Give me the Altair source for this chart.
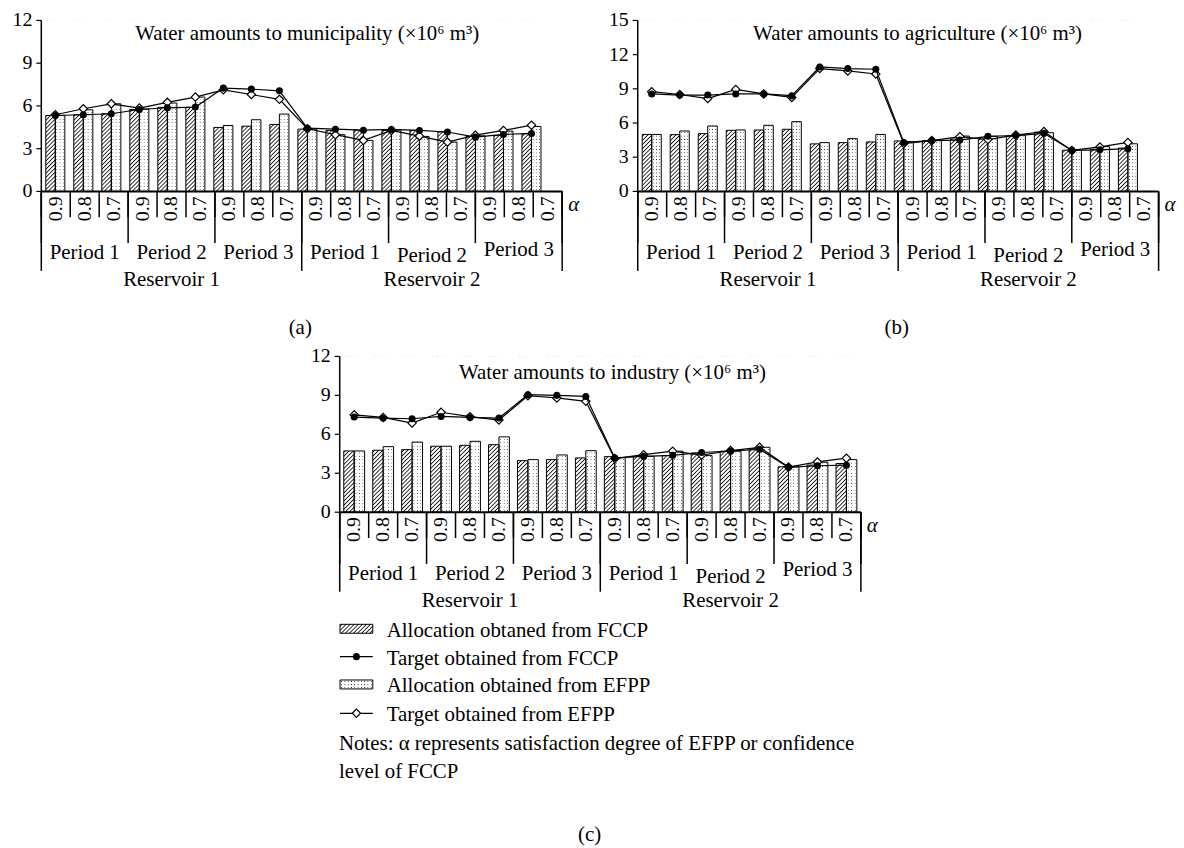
import math
import altair as alt
import pandas as pd

# ---------------- data ----------------
alpha_levels = ["0.9", "0.8", "0.7"]
period_names = ["Period 1", "Period 2", "Period 3"]
reservoir_names = ["Reservoir 1", "Reservoir 2"]

# (a) municipality
muni_alloc_fccp = [5.33, 5.38, 5.45, 5.75, 5.90, 5.90, 4.49, 4.58, 4.70,
                   4.37, 4.28, 4.30, 4.28, 4.28, 4.17, 3.86, 3.92, 4.05]
muni_alloc_efpp = [5.33, 5.73, 6.15, 5.78, 6.20, 6.62, 4.63, 5.03, 5.43,
                   4.37, 3.98, 3.58, 4.30, 3.86, 3.46, 3.90, 4.23, 4.56]
muni_target_fccp = [5.33, 5.38, 5.45, 5.75, 5.87, 5.92, 7.25, 7.18, 7.06,
                    4.44, 4.37, 4.30, 4.35, 4.28, 4.17, 3.81, 4.00, 4.07]
muni_target_efpp = [5.38, 5.80, 6.15, 5.85, 6.25, 6.62, 7.13, 6.80, 6.46,
                    4.40, 3.98, 3.58, 4.28, 3.88, 3.46, 3.95, 4.28, 4.65]

# (b) agriculture
agri_alloc_fccp = [5.00, 4.98, 5.07, 5.36, 5.39, 5.45, 4.17, 4.28, 4.34,
                   4.43, 4.45, 4.60, 4.70, 4.86, 5.20, 3.62, 3.70, 3.80]
agri_alloc_efpp = [5.00, 5.30, 5.74, 5.39, 5.80, 6.12, 4.28, 4.63, 5.00,
                   4.37, 4.50, 4.86, 4.83, 4.95, 5.15, 3.64, 3.93, 4.18]
agri_target_fccp = [8.55, 8.45, 8.45, 8.55, 8.55, 8.40, 10.92, 10.78, 10.72,
                    4.30, 4.46, 4.50, 4.84, 4.90, 5.10, 3.60, 3.65, 3.75]
agri_target_efpp = [8.75, 8.50, 8.15, 8.95, 8.55, 8.25, 10.78, 10.57, 10.30,
                    4.20, 4.46, 4.80, 4.55, 4.95, 5.25, 3.60, 3.90, 4.30]

# (c) industry
ind_alloc_fccp = [4.72, 4.77, 4.82, 5.08, 5.15, 5.20, 3.97, 4.05, 4.18,
                  4.28, 4.30, 4.36, 4.56, 4.70, 4.88, 3.50, 3.63, 3.75]
ind_alloc_efpp = [4.72, 5.05, 5.40, 5.08, 5.46, 5.80, 4.05, 4.41, 4.74,
                  4.20, 4.30, 4.70, 4.36, 4.70, 5.00, 3.50, 3.85, 4.05]
ind_target_fccp = [7.33, 7.25, 7.20, 7.38, 7.30, 7.25, 9.05, 9.00, 8.92,
                   4.18, 4.30, 4.38, 4.60, 4.70, 4.85, 3.46, 3.58, 3.62]
ind_target_efpp = [7.50, 7.30, 6.87, 7.70, 7.36, 7.10, 8.97, 8.80, 8.54,
                   4.13, 4.43, 4.70, 4.40, 4.75, 5.00, 3.48, 3.87, 4.16]

titles = ["Water amounts to municipality (\u00d710\u2076 m\u00b3)",
          "Water amounts to agriculture (\u00d710\u2076 m\u00b3)",
          "Water amounts to industry (\u00d710\u2076 m\u00b3)"]
letters = ["(a)", "(b)", "(c)"]
legend_names = ["Allocation obtaned from FCCP", "Target obtained from FCCP",
                "Allocation obtained from EFPP", "Target obtained from EFPP"]
notes_lines = ["Notes: \u03b1 represents satisfaction degree of EFPP or confidence",
               "level of FCCP"]

# ---------------- styling helpers ----------------
FONT = "Liberation Serif"
M = 8  # page margin


def hatch_fill(w, h, period=2.9, lw=0.85, ink="#111111"):
    k = (w + h) / (w * w + h * h)
    L = (w + h) / math.sqrt(2.0)
    th = lw / L
    stops = [{"offset": 0.0, "color": "#ffffff"}]
    j = 0
    while True:
        c = (j + 0.5) * period / L
        if c - th >= 1:
            break
        for off, col in ((c - th, "#ffffff"), (c, ink), (c + th, "#ffffff")):
            if 0 < off < 1:
                stops.append({"offset": round(off, 6), "color": col})
        j += 1
    stops.append({"offset": 1.0, "color": "#ffffff"})
    return {"gradient": "linear", "x1": 0, "y1": 0,
            "x2": round(w * k, 6), "y2": round(h * k, 6), "stops": stops}


def vstripes(w, period=3.2, lw=0.75, ink="#111111"):
    n = max(1, round(w / period))
    th = lw / w
    stops = [{"offset": 0.0, "color": "#ffffff"}]
    for j in range(n):
        c = (j + 0.5) / n
        for off, col in ((c - th, "#ffffff"), (c, ink), (c + th, "#ffffff")):
            stops.append({"offset": round(off, 6), "color": col})
    stops.append({"offset": 1.0, "color": "#ffffff"})
    return {"gradient": "linear", "x1": 0, "y1": 0, "x2": 1, "y2": 0, "stops": stops}


def hstripes(h, period=3.4, lw=0.75):
    n = max(1, round(h / period))
    th = lw / h
    op, cl = "rgba(255,255,255,1)", "rgba(255,255,255,0)"
    stops = [{"offset": 0.0, "color": op}]
    for j in range(n):
        c = (j + 0.5) / n
        for off, col in ((c - th, op), (c, cl), (c + th, op)):
            stops.append({"offset": round(off, 6), "color": col})
    stops.append({"offset": 1.0, "color": op})
    return {"gradient": "linear", "x1": 0, "y1": 0, "x2": 0, "y2": 1, "stops": stops}


def sc(d0, d1, r0, r1):
    return alt.Scale(domain=[d0, d1], range=[r0 - M, r1 - M], nice=False, zero=False)


def one(text):
    return alt.Chart(pd.DataFrame({"t": [text]}))


def txt(text, x, y, size=21, align="left", baseline="alphabetic", style="normal"):
    return one(text).mark_text(font=FONT, fontSize=size, align=align, baseline=baseline,
                               fontStyle=style, color="black").encode(
        x=alt.value(x - M), y=alt.value(y - M), text="t:N")


GEOM = [
    dict(tx0=41.5, tx1=565.5, bx0=41.5, bx1=548.7, y0=185.0, y1=13.0,
         bh=(0.16, 0.5), bd=(0.5, 0.84), title_x=309, title_y=33, letter_x=302, letter_y=328),
    dict(tx0=641.5, tx1=1165.5, bx0=641.5, bx1=1148.7, y0=185.0, y1=13.0,
         bh=(0.16, 0.5), bd=(0.5, 0.84), title_x=923, title_y=33, letter_x=902, letter_y=328),
    dict(tx0=341.7, tx1=866.0, bx0=341.7, bx1=866.0, y0=507.7, y1=351.0,
         bh=(0.14, 0.5), bd=(0.5, 0.86), title_x=616, title_y=374, letter_x=593, letter_y=838),
]


def panel(vals, ymax, yticks, title, letter, g):
    n = 18
    df = pd.DataFrame({"i": list(range(n)), "fa": vals[0], "ea": vals[1],
                       "ft": vals[2], "et": vals[3]})
    bh0, bh1 = g["bh"]
    bd0, bd1 = g["bd"]
    df["xh0"] = df.i + bh0
    df["xh1"] = df.i + bh1
    df["xd0"] = df.i + bd0
    df["xd1"] = df.i + bd1
    df["ch0"] = df.xh0 - 0.03
    df["cd1"] = df.xd1 + 0.03
    df["xc"] = df.i + 0.5
    df["zero"] = 0.0
    df["top"] = float(ymax)
    df["mx"] = df[["fa", "ea"]].max(axis=1)

    xb = sc(0, 18, g["bx0"], g["bx1"])
    xt = sc(0, 18, g["tx0"], g["tx1"])
    ys = sc(0, ymax, g["y0"], g["y1"])

    def X(f):
        return alt.X(f + ":Q", scale=xb, axis=None)

    def XT(f):
        return alt.X(f + ":Q", scale=xt, axis=None)

    def Y(f):
        return alt.Y(f + ":Q", scale=ys, axis=None)

    cat = (g["bx1"] - g["bx0"]) / 18
    wh = (bh1 - bh0) * cat
    wd = (bd1 - bd0) * cat
    hc = g["y0"] - g["y1"]
    base = alt.Chart(df)
    L = []
    # patterned full-height columns, then white covers above the bar tops
    L.append(base.mark_rect(fill=hatch_fill(wh, hc)).encode(x=X("xh0"), x2="xh1", y=Y("zero"), y2="top"))
    L.append(base.mark_rect(fill=vstripes(wd)).encode(x=X("xd0"), x2="xd1", y=Y("zero"), y2="top"))
    L.append(base.mark_rect(fill=hstripes(hc)).encode(x=X("xd0"), x2="xd1", y=Y("zero"), y2="top"))
    L.append(base.mark_rect(fill="white").encode(x=X("ch0"), x2="xh1", y=Y("fa"), y2="top"))
    L.append(base.mark_rect(fill="white").encode(x=X("xd0"), x2="cd1", y=Y("ea"), y2="top"))
    L.append(base.mark_rect(fill="white").encode(x=X("ch0"), x2="cd1", y=Y("mx"), y2="top"))
    # bar outlines
    L.append(base.mark_rect(fillOpacity=0, stroke="black", strokeWidth=1).encode(
        x=X("xh0"), x2="xh1", y=Y("zero"), y2="fa"))
    L.append(base.mark_rect(fillOpacity=0, stroke="black", strokeWidth=1).encode(
        x=X("xd0"), x2="xd1", y=Y("zero"), y2="ea"))
    # target lines
    L.append(base.mark_line(color="black", strokeWidth=1.2).encode(x=X("xc"), y=Y("et")))
    L.append(base.mark_point(shape="diamond", filled=True, fill="white", stroke="black",
                             strokeWidth=1.2, size=70, opacity=1).encode(x=X("xc"), y=Y("et")))
    L.append(base.mark_line(color="black", strokeWidth=1.2).encode(x=X("xc"), y=Y("ft")))
    L.append(base.mark_point(shape="circle", filled=True, color="black", size=50,
                             opacity=1).encode(x=X("xc"), y=Y("ft")))

    # y axis
    ax = g["tx0"] - M
    ydf = pd.DataFrame({"v": yticks, "lab": [str(v) for v in yticks]})
    ext = pd.DataFrame({"zero": [0.0], "top": [float(ymax)], "a": [0.0], "b": [18.0]})
    L.append(alt.Chart(ext).mark_rule(color="black", strokeWidth=1.5).encode(
        x=alt.value(ax), y=Y("zero"), y2="top"))
    L.append(alt.Chart(ydf).mark_rule(color="black", strokeWidth=1.2).encode(
        x=alt.value(ax - 5), x2=alt.value(ax), y=Y("v")))
    L.append(alt.Chart(ydf).mark_text(font=FONT, fontSize=20, align="right", baseline="middle",
                                      color="black").encode(
        x=alt.value(ax - 9), y=Y("v"), text="lab:N"))
    # category table below the axis
    yp = g["y0"] - M
    L.append(alt.Chart(ext).mark_rule(color="black", strokeWidth=2).encode(
        x=XT("a"), x2="b", y=Y("zero")))
    for ks, ln in ((list(range(19)), 26), ([0, 3, 6, 9, 12, 15, 18], 52), ([0, 9, 18], 80)):
        L.append(alt.Chart(pd.DataFrame({"k": ks})).mark_rule(color="black", strokeWidth=1.5).encode(
            x=XT("k"), y=alt.value(yp), y2=alt.value(yp + ln)))
    adf = pd.DataFrame({"xk": [i + 0.5 for i in range(n)], "lab": alpha_levels * 6})
    L.append(alt.Chart(adf).mark_text(font=FONT, fontSize=20, angle=270, align="right",
                                      baseline="middle", color="black").encode(
        x=XT("xk"), y=alt.value(yp + 5), text="lab:N"))
    pdf = pd.DataFrame({"xk": [3 * p + 1.5 for p in range(6)],
                        "lab": period_names * 2,
                        "grp": [0, 0, 0, 0, 1, 2]})
    for grp, dy in ((0, 0), (1, 3.5), (2, -3.5)):
        L.append(alt.Chart(pdf).transform_filter(alt.datum.grp == grp).mark_text(
            font=FONT, fontSize=21, align="center", baseline="alphabetic", dy=dy,
            color="black").encode(x=XT("xk"), y=alt.value(yp + 68), text="lab:N"))
    rdf = pd.DataFrame({"xk": [4.5, 13.5], "lab": reservoir_names})
    L.append(alt.Chart(rdf).mark_text(font=FONT, fontSize=21, align="center",
                                      baseline="alphabetic", color="black").encode(
        x=XT("xk"), y=alt.value(yp + 95), text="lab:N"))
    L.append(txt("\u03b1", g["tx1"] + 6, g["y0"] + 20, size=21, style="italic"))
    L.append(txt(title, g["title_x"], g["title_y"], size=21, align="center"))
    L.append(txt(letter, g["letter_x"], g["letter_y"], size=21, align="center"))
    return L


layers = []
layers += panel([muni_alloc_fccp, muni_alloc_efpp, muni_target_fccp, muni_target_efpp],
                12, [0, 3, 6, 9, 12], titles[0], letters[0], GEOM[0])
layers += panel([agri_alloc_fccp, agri_alloc_efpp, agri_target_fccp, agri_target_efpp],
                15, [0, 3, 6, 9, 12, 15], titles[1], letters[1], GEOM[1])
layers += panel([ind_alloc_fccp, ind_alloc_efpp, ind_target_fccp, ind_target_efpp],
                12, [0, 3, 6, 9, 12], titles[2], letters[2], GEOM[2])

# ---------------- legend ----------------
lx0, lx1, ltx = 342, 375, 389
rows = [633, 661, 689, 718]
sw_h = 9
for r, name in enumerate(legend_names):
    base_y = rows[r]
    cy = base_y - 8
    if r == 0:
        layers.append(one("").mark_rect(fill=hatch_fill(lx1 - lx0, sw_h), stroke="black",
                                        strokeWidth=1).encode(
            x=alt.value(lx0 - M), x2=alt.value(lx1 - M),
            y=alt.value(cy - sw_h / 2 - M), y2=alt.value(cy + sw_h / 2 - M)))
    elif r == 2:
        layers.append(one("").mark_rect(fill=vstripes(lx1 - lx0)).encode(
            x=alt.value(lx0 - M), x2=alt.value(lx1 - M),
            y=alt.value(cy - sw_h / 2 - M), y2=alt.value(cy + sw_h / 2 - M)))
        layers.append(one("").mark_rect(fill=hstripes(sw_h, period=3.0), stroke="black",
                                        strokeWidth=1).encode(
            x=alt.value(lx0 - M), x2=alt.value(lx1 - M),
            y=alt.value(cy - sw_h / 2 - M), y2=alt.value(cy + sw_h / 2 - M)))
    else:
        layers.append(one("").mark_rule(color="black", strokeWidth=1.3).encode(
            x=alt.value(lx0 - M), x2=alt.value(lx1 - M), y=alt.value(cy - M)))
        if r == 1:
            layers.append(one("").mark_point(shape="circle", filled=True, color="black",
                                             size=50, opacity=1).encode(
                x=alt.value((lx0 + lx1) / 2 - M), y=alt.value(cy - M)))
        else:
            layers.append(one("").mark_point(shape="diamond", filled=True, fill="white",
                                             stroke="black", strokeWidth=1.2, size=70,
                                             opacity=1).encode(
                x=alt.value((lx0 + lx1) / 2 - M), y=alt.value(cy - M)))
    layers.append(txt(name, ltx, base_y))

layers.append(txt(notes_lines[0], 341, 747))
layers.append(txt(notes_lines[1], 341, 775))

chart = alt.layer(*layers).resolve_scale(x="independent", y="independent").properties(
    width=1168, height=832, padding=0, background="white"
).configure_view(strokeWidth=0)

chart.save("out.html", embed_options={"renderer": "svg", "actions": False})
